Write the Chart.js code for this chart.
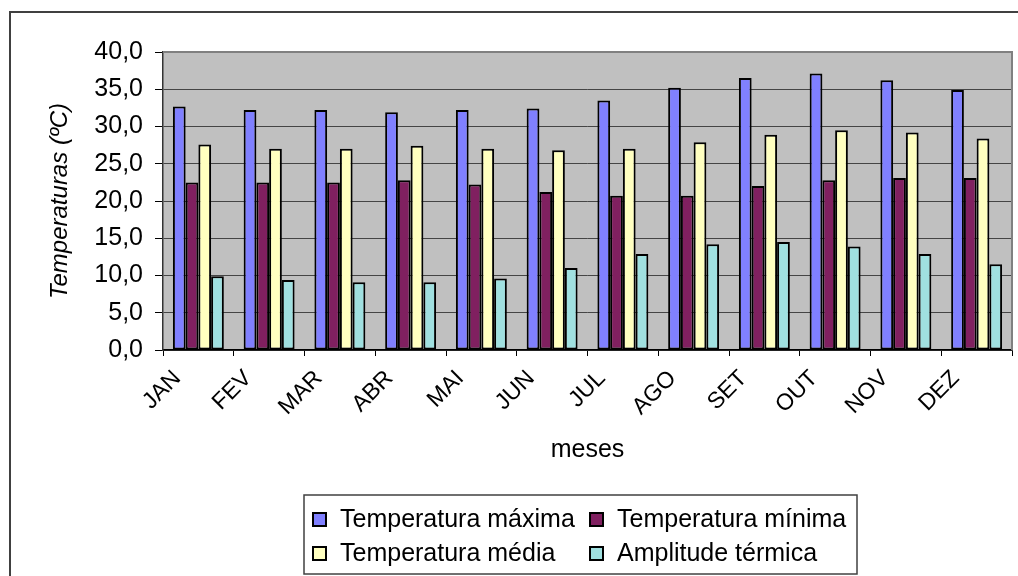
<!DOCTYPE html>
<html>
<head>
<meta charset="utf-8">
<script src="https://cdn.jsdelivr.net/npm/chart.js@4.4.1/dist/chart.umd.min.js"></script>
<style>
  html, body { margin: 0; padding: 0; background: #fff; }
  canvas { display: block; }
</style>
</head>
<body>
<canvas id="chartCanvas" width="1018" height="576"></canvas>
<script>
const months = ["JAN", "FEV", "MAR", "ABR", "MAI", "JUN", "JUL", "AGO", "SET", "OUT", "NOV", "DEZ"];
const tempMax = [32.7, 32.2, 32.2, 31.9, 32.2, 32.4, 33.5, 35.2, 36.5, 37.1, 36.2, 34.9];
const tempMin = [22.5, 22.5, 22.5, 22.8, 22.2, 21.2, 20.7, 20.7, 22.0, 22.8, 23.1, 23.1];
const tempMed = [27.6, 27.0, 27.0, 27.4, 27.0, 26.8, 27.0, 27.9, 28.9, 29.5, 29.2, 28.4];
const amplitude = [9.9, 9.4, 9.1, 9.1, 9.6, 11.0, 12.9, 14.2, 14.5, 13.9, 12.9, 11.5];
const seriesNames = ["Temperatura máxima", "Temperatura mínima", "Temperatura média", "Amplitude térmica"];
const yMin = 0;
const yMax = 40;
const yStep = 5;

const FONT = "'Liberation Sans', Arial, sans-serif";
const colors = ["#8080ff", "#802060", "#ffffc0", "#a0e0e0"];

// fundo cinza da área do gráfico + moldura externa
const plotBackground = {
  id: "plotBackground",
  beforeDraw(chart) {
    const { ctx, chartArea: a } = chart;
    ctx.save();
    ctx.fillStyle = "#fff";
    ctx.fillRect(0, 0, chart.width, chart.height);
    ctx.fillStyle = "#c0c0c0";
    ctx.fillRect(a.left, a.top, a.right - a.left, a.bottom - a.top);
    // moldura do gráfico (só topo e esquerda aparecem)
    ctx.strokeStyle = "#404040";
    ctx.lineWidth = 2;
    ctx.beginPath();
    ctx.moveTo(10, chart.height);
    ctx.lineTo(10, 12);
    ctx.lineTo(chart.width, 12);
    ctx.stroke();
    ctx.restore();
  },
  afterDatasetsDraw(chart) {
    const { ctx, chartArea: a } = chart;
    ctx.save();
    ctx.strokeStyle = "#808080";
    ctx.lineWidth = 2;
    ctx.beginPath();
    ctx.moveTo(a.left, a.top);
    ctx.lineTo(a.right, a.top);
    ctx.lineTo(a.right, a.bottom);
    ctx.stroke();
    ctx.restore();
  },
};

// legenda em caixa com duas colunas
const boxLegend = {
  id: "boxLegend",
  afterDraw(chart) {
    const ctx = chart.ctx;
    ctx.save();
    ctx.strokeStyle = "#404040";
    ctx.lineWidth = 1.5;
    ctx.strokeRect(304, 495, 553, 79);
    ctx.font = "25px " + FONT;
    ctx.textBaseline = "middle";
    const cols = [313, 590];
    const rows = [519, 553];
    chart.data.datasets.forEach((ds, i) => {
      const x = cols[i % 2];
      const y = rows[Math.floor(i / 2)];
      ctx.fillStyle = ds.backgroundColor;
      ctx.fillRect(x, y - 6, 13, 13);
      ctx.strokeStyle = "#000";
      ctx.lineWidth = 2;
      ctx.strokeRect(x, y - 6, 13, 13);
      ctx.fillStyle = "#000";
      ctx.fillText(ds.label, x + 27, y + 1);
    });
    ctx.restore();
  },
};

const ctx = document.getElementById("chartCanvas").getContext("2d");
const seriesData = [tempMax, tempMin, tempMed, amplitude];

new Chart(ctx, {
  type: "bar",
  data: {
    labels: months,
    datasets: seriesData.map((values, i) => ({
      label: seriesNames[i],
      data: values,
      backgroundColor: colors[i],
      borderColor: "#000",
      borderWidth: 2,
      borderSkipped: false,
      categoryPercentage: 0.72,
      barPercentage: 1.0,
    })),
  },
  options: {
    responsive: false,
    animation: false,
    layout: { padding: { left: 42, top: 52, right: 6, bottom: 107 } },
    plugins: {
      legend: { display: false },
      tooltip: { enabled: false },
    },
    scales: {
      x: {
        grid: {
          display: true,
          drawOnChartArea: false,
          offset: true,
          tickLength: 6,
          tickColor: "#000",
        },
        border: { color: "#000", width: 1.5 },
        ticks: {
          color: "#000",
          font: { family: FONT, size: 23 },
          maxRotation: 45,
          minRotation: 45,
          padding: 9,
          labelOffset: -21,
        },
        title: {
          display: true,
          text: "meses",
          color: "#000",
          font: { family: FONT, size: 25 },
        },
        afterFit(scale) { scale.height = 119; },
      },
      y: {
        min: yMin,
        max: yMax,
        grid: {
          color: "#454545",
          lineWidth: 1,
          tickLength: 8,
          tickColor: "#000",
        },
        border: { color: "#333", width: 1.5 },
        ticks: {
          stepSize: yStep,
          color: "#000",
          padding: 12,
          font: { family: FONT, size: 25 },
          callback: (v) => v.toFixed(1).replace(".", ","),
        },
        title: {
          display: true,
          text: "Temperaturas (ºC)",
          color: "#000",
          font: { family: FONT, size: 24, style: "italic" },
        },
        afterFit(scale) { scale.width = 121; },
      },
    },
  },
  plugins: [plotBackground, boxLegend],
});
</script>
</body>
</html>
